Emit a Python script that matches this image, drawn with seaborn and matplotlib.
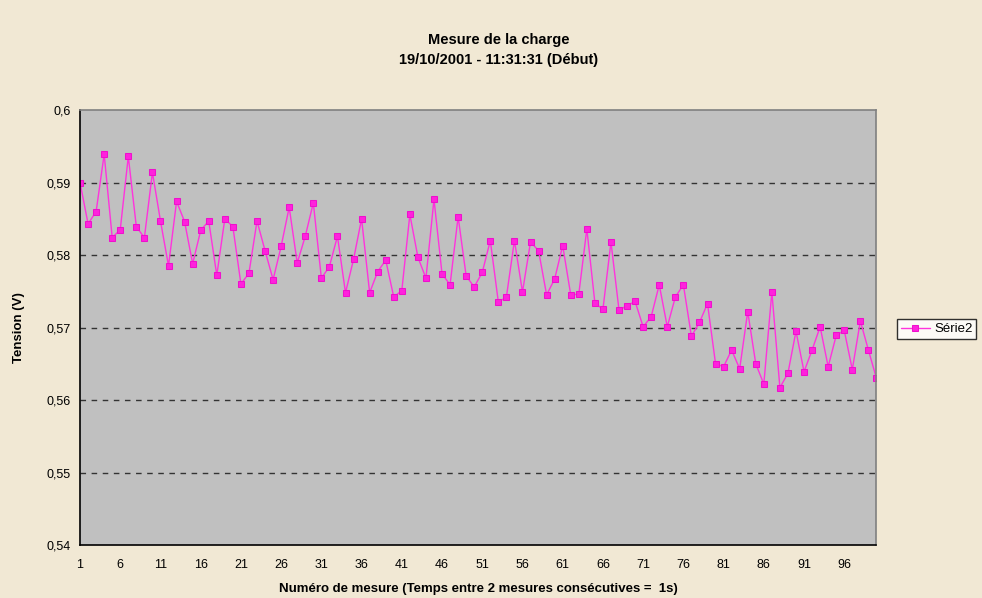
import matplotlib
matplotlib.use("Agg")
import matplotlib.pyplot as plt
import seaborn as sns
import pandas as pd
from matplotlib.ticker import FuncFormatter

# values (tension in V)
mesures = list(range(1, 101))
tension = [
    0.5900, 0.5843, 0.5860, 0.5939, 0.5824, 0.5835, 0.5936, 0.5839, 0.5824, 0.5914,
    0.5847, 0.5785, 0.5874, 0.5846, 0.5788, 0.5834, 0.5847, 0.5772, 0.5850, 0.5839,
    0.5760, 0.5775, 0.5847, 0.5806, 0.5766, 0.5812, 0.5866, 0.5789, 0.5826, 0.5872,
    0.5768, 0.5784, 0.5826, 0.5748, 0.5794, 0.5850, 0.5748, 0.5777, 0.5793, 0.5742,
    0.5751, 0.5856, 0.5797, 0.5768, 0.5877, 0.5774, 0.5759, 0.5853, 0.5771, 0.5756,
    0.5776, 0.5820, 0.5735, 0.5742, 0.5820, 0.5749, 0.5818, 0.5806, 0.5745, 0.5767,
    0.5813, 0.5745, 0.5746, 0.5836, 0.5734, 0.5725, 0.5818, 0.5724, 0.5730, 0.5736,
    0.5701, 0.5715, 0.5759, 0.5701, 0.5742, 0.5759, 0.5688, 0.5707, 0.5733, 0.5650,
    0.5646, 0.5669, 0.5643, 0.5722, 0.5650, 0.5622, 0.5749, 0.5617, 0.5637, 0.5695,
    0.5639, 0.5669, 0.5701, 0.5646, 0.5689, 0.5696, 0.5642, 0.5709, 0.5669, 0.5630,
]
x_ticks = list(range(1, 100, 5))
y_ticks = [0.54, 0.55, 0.56, 0.57, 0.58, 0.59, 0.6]

df = pd.DataFrame({"mesure": mesures, "tension": tension})

sns.set_style("white")
plt.rcParams["font.family"] = ["Liberation Sans", "DejaVu Sans"]
plt.rcParams["text.color"] = "black"
plt.rcParams["axes.labelcolor"] = "black"
plt.rcParams["xtick.color"] = "black"
plt.rcParams["ytick.color"] = "black"

bg = "#f1e8d4"
fig = plt.figure(figsize=(9.82, 5.98), dpi=100, facecolor=bg)
ax = fig.add_axes([0.0815, 0.0886, 0.811, 0.7274])
ax.set_facecolor("#c0c0c0")

sns.lineplot(data=df, x="mesure", y="tension", ax=ax, color="#ff33dd",
             linewidth=1.0, marker="s", markersize=5, markerfacecolor="#ff22dd",
             markeredgecolor="#ee11cc", label="Série2")

ax.set_xlim(1, 100)
ax.set_ylim(0.54, 0.6)
ax.set_xticks(x_ticks)
ax.set_yticks(y_ticks)
ax.yaxis.set_major_formatter(FuncFormatter(lambda v, p: ("%g" % round(v, 2)).replace(".", ",")))
ax.tick_params(axis="both", direction="inout", length=6, width=1, labelsize=9, color="black")
ax.tick_params(axis="x", pad=7)

for y in y_ticks[1:-1]:
    ax.axhline(y, color="#333333", linestyle=(0, (4, 4)), linewidth=1, zorder=0.5)

for s in ["left", "bottom"]:
    ax.spines[s].set_color("black")
    ax.spines[s].set_linewidth(1.2)
for s in ["top", "right"]:
    ax.spines[s].set_color("#808080")
    ax.spines[s].set_linewidth(1.2)

ax.set_xlabel("Numéro de mesure (Temps entre 2 mesures consécutives =  1s)",
              fontsize=9.5, fontweight="bold", labelpad=9)
ax.set_ylabel("Tension (V)", fontsize=9.5, fontweight="bold", labelpad=16)

fig.text(0.508, 0.933, "Mesure de la charge", ha="center", va="center",
         fontsize=10.5, fontweight="bold")
fig.text(0.508, 0.899, "19/10/2001 - 11:31:31 (Début)", ha="center", va="center",
         fontsize=10.5, fontweight="bold")

leg = ax.legend(loc="center left", bbox_to_anchor=(897 / 982, 1 - 329 / 598),
                bbox_transform=fig.transFigure, frameon=True,
                fancybox=False, edgecolor="black", fontsize=9.5, handlelength=2.2,
                borderpad=0.3, handletextpad=0.3, borderaxespad=0)
leg.get_frame().set_facecolor("white")
leg.get_frame().set_linewidth(1)

fig.savefig("out.png", dpi=100, facecolor=bg)
